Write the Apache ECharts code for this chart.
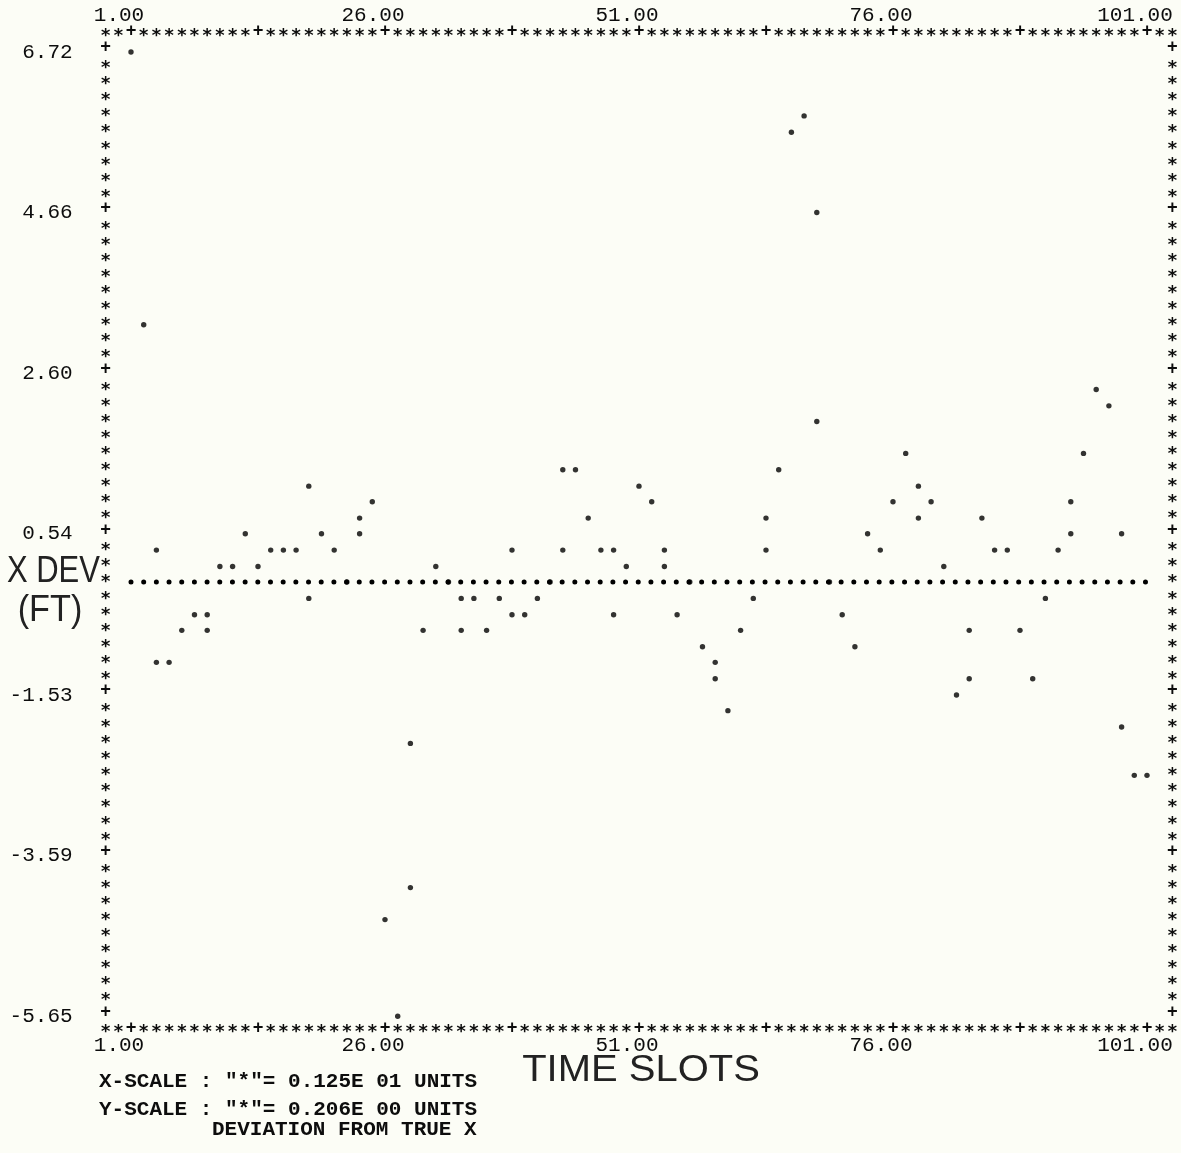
<!DOCTYPE html>
<html>
<head>
<meta charset="utf-8">
<script src="https://cdn.jsdelivr.net/npm/echarts@6/dist/echarts.min.js"></script>
<style>
html,body{margin:0;padding:0;background:#fcfdf6;}
#c{width:1181px;height:1153px;}
</style>
</head>
<body>
<div id="c"></div>
<script>
// ---- data ----
const xTickValues = [1, 26, 51, 76, 101];
const xTickLabels = ['1.00', '26.00', '51.00', '76.00', '101.00'];
const yTickValues = [6.72, 4.66, 2.60, 0.54, -1.53, -3.59, -5.65];
const yTickLabels = ['6.72', '4.66', '2.60', '0.54', '-1.53', '-3.59', '-5.65'];

// time slot (position of printed column) and X deviation (ft)
const timeSlot = [1, 2.25, 3.5, 3.5, 4.75, 6, 7.25, 8.5, 8.5, 9.75,
  11, 12.25, 13.5, 14.75, 16, 17.25, 18.5, 18.5, 19.75, 21,
  22.25, 23.5, 23.5, 24.75, 26, 27.25, 28.5, 28.5, 29.75, 31,
  32.25, 33.5, 33.5, 34.75, 36, 37.25, 38.5, 38.5, 39.75, 41,
  42.25, 43.5, 43.5, 44.75, 46, 47.25, 48.5, 48.5, 49.75, 51,
  52.25, 53.5, 53.5, 54.75, 56, 57.25, 58.5, 58.5, 59.75, 61,
  62.25, 63.5, 63.5, 64.75, 66, 67.25, 68.5, 68.5, 69.75, 71,
  72.25, 73.5, 74.75, 76, 77.25, 78.5, 78.5, 79.75, 81, 82.25,
  83.5, 83.5, 84.75, 86, 87.25, 88.5, 89.75, 91, 92.25, 93.5,
  93.5, 94.75, 96, 97.25, 98.5, 98.5, 99.75, 101];
const xDeviation = [6.72, 3.22, 0.33, -1.11, -1.11, -0.70, -0.50, -0.50, -0.70, 0.12,
  0.12, 0.54, 0.12, 0.33, 0.33, 0.33, 1.15, -0.29, 0.54, 0.33,
  -0.08, 0.74, 0.54, 0.95, -4.41, -5.65, -2.15, -4.00, -0.70, 0.12,
  -0.08, -0.29, -0.70, -0.29, -0.70, -0.29, 0.33, -0.50, -0.50, -0.29,
  -0.08, 1.36, 0.33, 1.36, 0.74, 0.33, 0.33, -0.50, 0.12, 1.15,
  0.95, 0.33, 0.12, -0.50, -0.08, -0.91, -1.11, -1.32, -1.73, -0.70,
  -0.29, 0.74, 0.33, 1.36, 5.69, 5.90, 4.66, 1.98, -0.08, -0.50,
  -0.91, 0.54, 0.33, 0.95, 1.57, 1.15, 0.74, 0.95, 0.12, -1.53,
  -0.70, -1.32, 0.74, 0.33, 0.33, -0.70, -1.32, -0.29, 0.33, 0.95,
  0.54, 1.57, 2.39, 2.18, 0.54, -1.94, -2.56, -2.56];
// dotted reference line (zero deviation row)
const zeroLineX = [1, 101];
const zeroLineY = [-0.08, -0.08];

// ---- layout / style ----
const printerFont = '"Liberation Mono", "DejaVu Sans Mono", monospace';
const borderFont = '"DejaVu Sans Mono", "Liberation Mono", monospace';
const ink = '#0d0d0d';
const L = 105.6, R = 1172.4;             // border columns
const rowTop = 31.9, rowBottom = 1028.3; // border rows (char centres)
const dotDrop = 4;                       // printed '.' sits below the row centre

function borderChar(v) { return (Math.round(v) % 10 === 0) ? '{p|+}' : '{s|*}'; }
function borderRowChar(v) {
  if (v < 0 || v > 60) return '';
  return (Math.round(v) % 10 === 0) ? '{p|+}' : '{s|*}';
}
const richBorder = {
  p: { fontFamily: borderFont, fontSize: 17, fontWeight: 'bold', color: ink, lineHeight: 16 },
  s: { fontFamily: borderFont, fontSize: 18, fontWeight: 'bold', color: ink, lineHeight: 16, padding: [9, 0, 0, 0] }
};
const hidden = { axisLine: { show: false }, axisTick: { show: false }, splitLine: { show: false } };

function near(arr, v) { return arr.findIndex(t => Math.abs(t - v) < 1e-6); }

const option = {
  backgroundColor: '#fcfdf6',
  animation: false,
  grid: [
    { left: L, top: rowTop + dotDrop, width: R - L, height: rowBottom - rowTop },
    { left: L, top: rowTop, width: R - L, height: rowBottom - rowTop }
  ],
  xAxis: [
    Object.assign({ gridIndex: 0, type: 'value', position: 'bottom', min: -1.5, max: 103.5,
      axisLabel: { customValues: xTickValues, formatter: v => xTickLabels[near(xTickValues, v)],
        margin: 17 - dotDrop, verticalAlign: 'middle', padding: [0, 24, 0, 0],
        fontFamily: printerFont, fontSize: 21, color: ink } }, hidden),
    Object.assign({ gridIndex: 0, type: 'value', position: 'top', min: -1.5, max: 103.5,
      axisLabel: { customValues: xTickValues, formatter: v => xTickLabels[near(xTickValues, v)],
        margin: 16 + dotDrop, verticalAlign: 'middle', padding: [0, 24, 0, 0],
        fontFamily: printerFont, fontSize: 21, color: ink } }, hidden),
    Object.assign({ gridIndex: 1, type: 'value', position: 'bottom', min: -2, max: 82, interval: 1,
      axisLabel: { formatter: borderChar, margin: 0, verticalAlign: 'middle', rich: richBorder,
        showMinLabel: true, showMaxLabel: true } }, hidden),
    Object.assign({ gridIndex: 1, type: 'value', position: 'top', min: -2, max: 82, interval: 1,
      axisLabel: { formatter: borderChar, margin: 0, verticalAlign: 'middle', rich: richBorder,
        showMinLabel: true, showMaxLabel: true } }, hidden)
  ],
  yAxis: [
    Object.assign({ gridIndex: 0, type: 'value', position: 'left', min: -5.856, max: 6.926,
      axisLabel: { customValues: yTickValues, formatter: v => yTickLabels[near(yTickValues, v)],
        margin: 33, padding: [0, 0, 2 * dotDrop, 0],
        fontFamily: printerFont, fontSize: 21, color: ink } }, hidden),
    Object.assign({ gridIndex: 1, type: 'value', position: 'left', min: -1, max: 61, interval: 1, inverse: true,
      axisLabel: { formatter: borderRowChar, margin: 0, align: 'center', verticalAlign: 'middle', rich: richBorder,
        showMinLabel: true, showMaxLabel: true } }, hidden),
    Object.assign({ gridIndex: 1, type: 'value', position: 'right', min: -1, max: 61, interval: 1, inverse: true,
      axisLabel: { formatter: borderRowChar, margin: 0, align: 'center', verticalAlign: 'middle', rich: richBorder,
        showMinLabel: true, showMaxLabel: true } }, hidden)
  ],
  series: [
    {
      type: 'line', xAxisIndex: 0, yAxisIndex: 0, silent: true,
      data: zeroLineX.map((x, i) => [x, zeroLineY[i]]),
      symbol: 'none',
      lineStyle: { color: '#000', width: 5, type: [0.001, 12.68], cap: 'round' }
    },
    {
      type: 'scatter', xAxisIndex: 0, yAxisIndex: 0, silent: true,
      data: timeSlot.map((x, i) => [x, xDeviation[i]]),
      symbol: 'circle', symbolSize: 5.4,
      itemStyle: { color: '#000' }, z: 5
    }
  ],
  graphic: [
    { type: 'text', x: 7, y: 572, scaleX: 0.86,
      style: { text: 'X DEV', fontSize: 36, fontFamily: '"Liberation Sans", Arial, sans-serif', fill: '#222', textVerticalAlign: 'middle' } },
    { type: 'text', x: 50, y: 611, scaleX: 0.95,
      style: { text: '(FT)', fontSize: 36, fontFamily: '"Liberation Sans", Arial, sans-serif', fill: '#222', textAlign: 'center', textVerticalAlign: 'middle' } },
    { type: 'text', x: 641, y: 1071, scaleX: 1.08,
      style: { text: 'TIME SLOTS', fontSize: 37, fontFamily: '"Liberation Sans", Arial, sans-serif', fill: '#222', textAlign: 'center', textVerticalAlign: 'middle' } },
    { type: 'text', x: 99, y: 1082,
      style: { text: 'X-SCALE : "*"= 0.125E 01 UNITS', fontSize: 21, fontWeight: 'bold', fontFamily: printerFont, fill: ink, textVerticalAlign: 'middle' } },
    { type: 'text', x: 99, y: 1110, scaleY: 0.92,
      style: { text: 'Y-SCALE : "*"= 0.206E 00 UNITS', fontSize: 21, fontWeight: 'bold', fontFamily: printerFont, fill: ink, textVerticalAlign: 'middle' } },
    { type: 'text', x: 212, y: 1130, scaleY: 0.92,
      style: { text: 'DEVIATION FROM TRUE X', fontSize: 21, fontWeight: 'bold', fontFamily: printerFont, fill: ink, textVerticalAlign: 'middle' } }
  ]
};

const chart = echarts.init(document.getElementById('c'));
chart.setOption(option);
</script>
</body>
</html>
